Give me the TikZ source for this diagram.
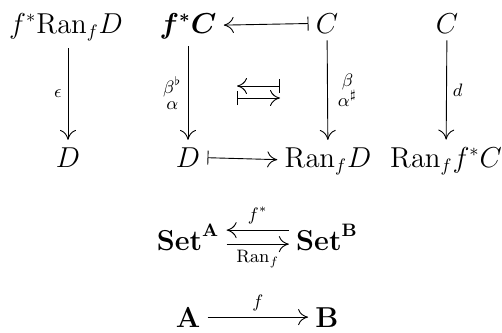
\documentclass[tikz,border=0pt]{standalone}
\usepackage{amsmath,amssymb,bm}
\usetikzlibrary{arrows.meta, calc}

\begin{document}
\begin{tikzpicture}[x=0.5pt, y=-0.5pt,
  obj/.style={font=\fontsize{13.5}{16}\selectfont, inner sep=3.5pt, anchor=base},
  arr/.style={-{To[length=5pt, width=8pt]}, line width=0.45pt},
  mapsto/.style={{Bar[width=7pt]}-{To[length=5pt, width=8pt]}, line width=0.45pt},
  lbl/.style={font=\small, inner sep=3pt, align=center}
]
\useasboundingbox (0,0) rectangle (502,332);

% Objects
\node[obj] (fRanD) at (66,33) {$f^*\mathrm{Ran}_f D$};
\node[obj] (fC) at (188,33) {$\bm{f^*C}$};
\node[obj] (C) at (327,33) {$C$};
\node[obj] (C2) at (447,33) {$C$};

\node[obj] (D1) at (68,167) {$D$};
\node[obj] (D2) at (188,167) {$D$};
\node[obj] (RanD) at (328,167) {$\mathrm{Ran}_f D$};
\node[obj] (RanfC) at (446,167) {$\mathrm{Ran}_f f^*C$};

\node[obj] (SetA) at (188,250) {$\mathbf{Set}^{\mathbf{A}}$};
\node[obj] (SetB) at (327,250) {$\mathbf{Set}^{\mathbf{B}}$};
\node[obj] (A) at (188,327) {$\mathbf{A}$};
\node[obj] (B) at (327,327) {$\mathbf{B}$};

% Arrows
\draw[arr] (fRanD.south -| D1) -- node[lbl, left] {$\epsilon$} (D1);
\draw[arr] (fC) -- node[lbl, left] {$\beta^\flat$\\[-3pt]$\alpha$} (D2);
\draw[arr] (C) -- node[lbl, right, xshift=2pt] {$\beta$\\[-1pt]$\alpha^\sharp$} (RanD);
\draw[arr] (C2) -- node[lbl, right] {$d$} (RanfC);
\draw[mapsto] (C) -- (fC);
\draw[mapsto] (D2) -- (RanD);

% Middle pair
\coordinate (m1) at (237,86);
\coordinate (m2) at (280,86);
\coordinate (m3) at (237,98);
\coordinate (m4) at (280,98);
\draw[mapsto] (m2) -- (m1);
\draw[mapsto] (m3) -- (m4);

% Adjunction
\draw[arr] ($(SetB.west)+(0,-7)$) -- node[lbl, above] {$f^*$} ($(SetA.east)+(0,-7)$);
\draw[arr] ($(SetA.east)+(0,7)$) -- node[lbl, below] {$\mathrm{Ran}_f$} ($(SetB.west)+(0,7)$);
\draw[arr] (A) -- node[lbl, above] {$f$} (B);

\end{tikzpicture}
\end{document}
